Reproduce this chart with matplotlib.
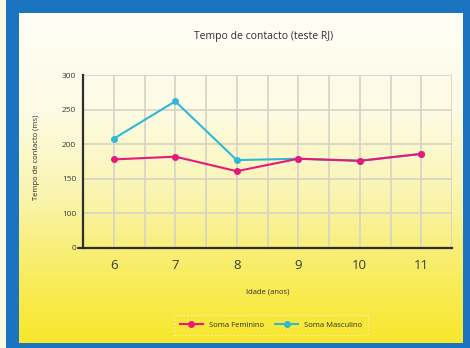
import numpy as np
import matplotlib
matplotlib.use("Agg")
import matplotlib.pyplot as plt
from matplotlib.colors import LinearSegmentedColormap
from matplotlib.patches import Rectangle

plt.rcParams['font.family'] = ['Open Sans', 'DejaVu Sans']

# Data
idades = [6, 7, 8, 9, 10, 11]
soma_feminino = [178, 182, 161, 179, 176, 186]
soma_masculino = [208, 262, 177, 179, 176, 186]
y_ticks = [0, 100, 150, 200, 250, 300]

title = "Tempo de contacto (teste RJ)"
x_label = "Idade (anos)"
y_label = "Tempo de contacto (ms)"
legend_labels = ["Soma Feminino", "Soma Masculino"]

pink = "#e6197c"
cyan = "#2fb8d8"
border_blue = "#1b74bf"

W, H = 470, 348
fig = plt.figure(figsize=(W / 100, H / 100), dpi=100)
fig.patch.set_facecolor("#fdf8e2")

def px_rect(x0, y0, x1, y1):
    """Pixel box (top-left origin) -> figure fraction [l, b, w, h]."""
    return [x0 / W, 1 - y1 / H, (x1 - x0) / W, (y1 - y0) / H]

# Blue frame
frame = fig.add_axes(px_rect(6, 0, W, H))
frame.set_axis_off()
frame.add_patch(Rectangle((0, 0), 1, 1, transform=frame.transAxes,
                          facecolor=border_blue, edgecolor="none"))

# Yellow gradient panel
panel = fig.add_axes(px_rect(19, 13, 463, 343))
panel.set_axis_off()
grad_cmap = LinearSegmentedColormap.from_list(
    "panel",
    [(0.0, "#fffef7"), (0.3, "#fdfbe3"), (0.55, "#faf4b0"),
     (0.8, "#f8ec5e"), (1.0, "#f9e72c")])
grad = np.linspace(0, 1, 256).reshape(-1, 1)
panel.imshow(grad, aspect="auto", cmap=grad_cmap, extent=[0, 1, 1, 0])
panel.set_xlim(0, 1)
panel.set_ylim(1, 0)

# Main chart axes
ax = fig.add_axes(px_rect(83, 75, 452, 248))
ax.patch.set_alpha(0)

# Broken y axis: 0..100 compressed into half a grid step
def fwd(y):
    y = np.asarray(y, dtype=float)
    return np.where(y >= 100, y, 50 + 0.5 * y)

def inv(v):
    v = np.asarray(v, dtype=float)
    return np.where(v >= 100, v, (v - 50) * 2)

ax.set_yscale("function", functions=(fwd, inv))
ax.set_ylim(0, 300)
ax.set_xlim(5.5, 11.5)

ax.set_yticks(y_ticks)
ax.set_yticklabels([str(t) for t in y_ticks])
ax.set_xticks(idades)
ax.set_xticklabels([str(i) for i in idades])

grid_color = "#d6d3c6"
for xv in np.arange(6, 11.51, 0.5):
    ax.axvline(xv, color=grid_color, lw=1.2, zorder=1)
for yv in y_ticks[1:]:
    ax.axhline(yv, color=grid_color, lw=1.2, zorder=1)

ax.plot(idades, soma_masculino, color=cyan, lw=1.5, marker="o", ms=4,
        label=legend_labels[1], zorder=3)
ax.plot(idades, soma_feminino, color=pink, lw=1.5, marker="o", ms=4,
        label=legend_labels[0], zorder=4)

for side in ["top", "right"]:
    ax.spines[side].set_visible(False)
for side in ["left", "bottom"]:
    ax.spines[side].set_color("#2e2e2e")
    ax.spines[side].set_linewidth(1.6)
ax.spines["bottom"].set_bounds(5.44, 11.5)

ax.tick_params(axis="x", length=0, pad=8, labelsize=9.5, labelcolor="#3a3a3a")
ax.tick_params(axis="y", length=0, pad=5, labelsize=6, labelcolor="#3a3a3a")
ax.plot([5.42, 5.58], [0, 0], color="#2e2e2e", lw=1.2, clip_on=False, zorder=5)

fig.text(264 / W, 1 - 36 / H, title, ha="center", va="center",
         fontsize=7.5, color="#2e2e2e")
fig.text(268 / W, 1 - 292 / H, x_label, ha="center", va="center",
         fontsize=5.5, color="#2e2e2e")
fig.text(37 / W, 1 - 157 / H, y_label, ha="center", va="center",
         rotation=90, fontsize=5.5, color="#2e2e2e")

handles, labels = ax.get_legend_handles_labels()
leg = fig.legend(handles[::-1], labels[::-1], loc="center",
                 bbox_to_anchor=(271 / W, 1 - 325 / H), ncol=2,
                 fontsize=5.5, frameon=True, fancybox=False,
                 handlelength=3, columnspacing=1.5, borderpad=0.8)
leg.get_frame().set_facecolor("none")
leg.get_frame().set_edgecolor("#f6f2cc")
leg.get_frame().set_linestyle(":")
for t in leg.get_texts():
    t.set_color("#2e2e2e")

fig.savefig("out.png", dpi=100, facecolor=fig.get_facecolor())
